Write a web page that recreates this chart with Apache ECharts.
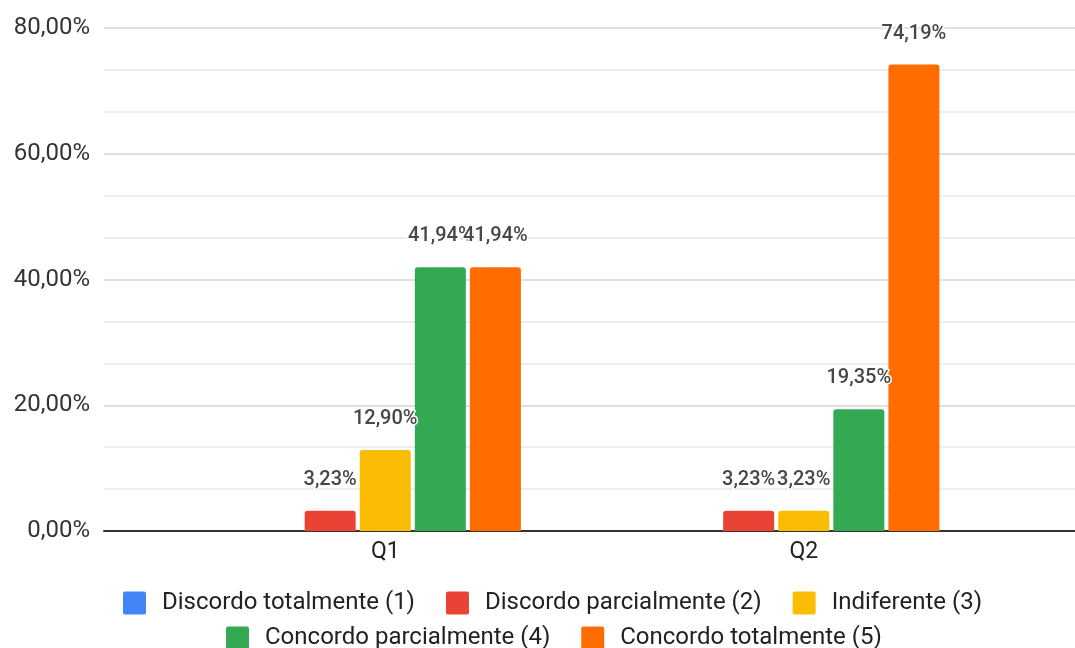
<!DOCTYPE html>
<html>
<head>
<meta charset="utf-8">
<script src="https://cdn.jsdelivr.net/npm/echarts@6/dist/echarts.min.js"></script>
<style>
  html, body { margin: 0; padding: 0; background: #fff; }
  #chart { width: 1075px; height: 648px; }
</style>
</head>
<body>
<div id="chart"></div>
<script>
// Survey answers per question, in percent
const categories = ['Q1', 'Q2'];
const seriesNames = [
  'Discordo totalmente (1)',
  'Discordo parcialmente (2)',
  'Indiferente (3)',
  'Concordo parcialmente (4)',
  'Concordo totalmente (5)'
];
const discordoTotalmente = [0, 0];
const discordoParcialmente = [3.23, 3.23];
const indiferente = [12.90, 3.23];
const concordoParcialmente = [41.94, 19.35];
const concordoTotalmente = [41.94, 74.19];
const yTicks = [0, 20, 40, 60, 80];

const seriesValues = [discordoTotalmente, discordoParcialmente, indiferente, concordoParcialmente, concordoTotalmente];
const colors = ['#4285F4', '#EA4335', '#FBBC04', '#34A853', '#FF6D01'];

const pct = v => v.toFixed(2).replace('.', ',') + '%';
const FONT = 'Roboto';
// square legend swatch with slightly rounded corners
const SWATCH = 'path://M2,0 H21 Q23,0 23,2 V21 Q23,23 21,23 H2 Q0,23 0,21 V2 Q0,0 2,0 Z';

const chart = echarts.init(document.getElementById('chart'), null, { renderer: 'canvas' });

const legendBase = {
  itemWidth: 23, itemHeight: 23, itemGap: 31,
  icon: SWATCH,
  textStyle: { fontSize: 24, color: '#222', fontFamily: FONT, padding: [0, 0, 0, 11] }
};

const option = {
  animation: false,
  textStyle: { fontFamily: FONT },
  grid: [
    { left: 104, right: 0, top: 28, bottom: 117 },
    { left: 176, right: 62, top: 28, bottom: 117 }
  ],
  xAxis: [
    {
      gridIndex: 0, type: 'value', min: 0, max: 1,
      axisLine: { show: true, lineStyle: { color: '#333', width: 2 } },
      axisTick: { show: false }, axisLabel: { show: false }, splitLine: { show: false }
    },
    {
      gridIndex: 1, type: 'category', data: categories,
      axisLine: { show: false }, axisTick: { show: false },
      axisLabel: { color: '#222', fontSize: 23, fontFamily: FONT, margin: 10 }
    }
  ],
  yAxis: [
    {
      gridIndex: 0, type: 'value',
      min: yTicks[0], max: yTicks[yTicks.length - 1], interval: 20,
      axisLine: { show: false }, axisTick: { show: false },
      axisLabel: { color: '#333', fontSize: 24, fontFamily: FONT, margin: 14, formatter: v => pct(v) },
      splitLine: { show: true, lineStyle: { color: '#d6d6d6', width: 1.5 } },
      minorTick: { show: false, splitNumber: 3 },
      minorSplitLine: { show: true, lineStyle: { color: '#e9e9e9', width: 1.5 } }
    },
    {
      gridIndex: 1, type: 'value', show: false,
      min: yTicks[0], max: yTicks[yTicks.length - 1]
    }
  ],
  legend: [
    Object.assign({}, legendBase, { data: seriesNames.slice(0, 3), left: 118, top: 586 }),
    Object.assign({}, legendBase, { data: seriesNames.slice(3), left: 221, top: 621 })
  ],
  series: seriesNames.map((name, i) => ({
    name,
    type: 'bar',
    xAxisIndex: 1,
    yAxisIndex: 1,
    data: seriesValues[i],
    barWidth: 51,
    barGap: '8%',
    itemStyle: { color: colors[i], borderRadius: [3, 3, 0, 0] },
    label: {
      show: true,
      position: 'top',
      distance: 21,
      color: '#474747',
      fontSize: 20,
      fontWeight: 500,
      fontFamily: FONT,
      textBorderColor: '#fff',
      textBorderWidth: 3,
      formatter: p => (p.value === 0 ? '' : pct(p.value))
    }
  }))
};

chart.setOption(option);
</script>
</body>
</html>
